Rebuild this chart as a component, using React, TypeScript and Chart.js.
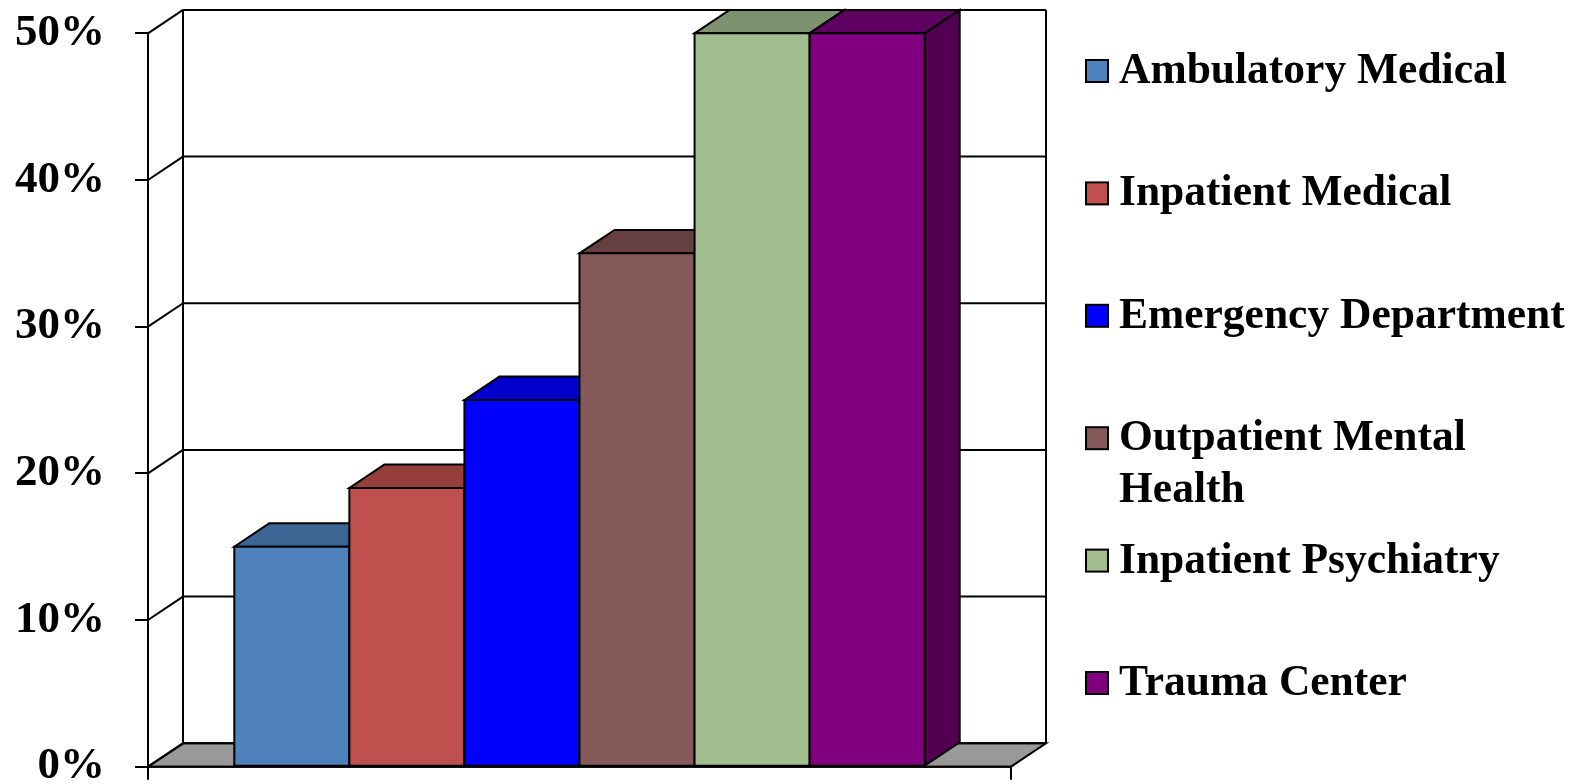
import React, { useEffect, useRef } from "react";
import { Chart, registerables } from "chart.js";

Chart.register(...registerables);

const categories = [""];
const seriesLabels = [
  "Ambulatory Medical",
  "Inpatient Medical",
  "Emergency Department",
  "Outpatient Mental Health",
  "Inpatient Psychiatry",
  "Trauma Center",
];
const seriesValues = [15, 19, 25, 35, 50, 50];
const yTickMax = 50;
const yTickStep = 10;
const frontColors = ["#4F81BD", "#C0504D", "#0000FF", "#855859", "#A2BD8E", "#800080"];
const topColors = ["#3D6594", "#963E3C", "#0000CC", "#683F40", "#7F9270", "#600060"];
const sideColors = ["#36597F", "#7F3432", "#0000A8", "#593637", "#6B7C5E", "#520052"];

const DX = 35;
const DY = -23.4;
const FONT = '"Liberation Serif", "Times New Roman", serif';

const threeD = {
  id: "threeD",
  beforeDatasetsDraw(chart: any) {
    const ctx = chart.ctx;
    const { left, right, top, bottom } = chart.chartArea;
    const yScale = chart.scales.y;
    ctx.save();
    ctx.lineWidth = 2;
    ctx.strokeStyle = "#000";
    // floor
    ctx.beginPath();
    ctx.moveTo(left, bottom);
    ctx.lineTo(right, bottom);
    ctx.lineTo(right + DX, bottom + DY);
    ctx.lineTo(left + DX, bottom + DY);
    ctx.closePath();
    ctx.fillStyle = "#999999";
    ctx.fill();
    ctx.stroke();
    // back wall gridlines and side wall diagonals
    yScale.ticks.forEach((t: any) => {
      const y = yScale.getPixelForValue(t.value);
      ctx.beginPath();
      ctx.moveTo(left + DX, y + DY);
      ctx.lineTo(right + DX, y + DY);
      ctx.stroke();
      ctx.beginPath();
      ctx.moveTo(left, y);
      ctx.lineTo(left + DX, y + DY);
      ctx.stroke();
    });
    // verticals
    ctx.beginPath();
    ctx.moveTo(left + DX, top + DY);
    ctx.lineTo(left + DX, bottom + DY);
    ctx.moveTo(right + DX, top + DY);
    ctx.lineTo(right + DX, bottom + DY);
    ctx.stroke();
    // front floor edge + x ticks
    ctx.beginPath();
    ctx.moveTo(left, bottom);
    ctx.lineTo(right, bottom);
    ctx.moveTo(left, bottom);
    ctx.lineTo(left, bottom + 13);
    ctx.moveTo(right, bottom);
    ctx.lineTo(right, bottom + 13);
    ctx.stroke();
    ctx.restore();
  },
  afterDatasetsDraw(chart: any) {
    const ctx = chart.ctx;
    ctx.save();
    ctx.lineWidth = 2;
    ctx.strokeStyle = "#000";
    ctx.lineJoin = "miter";
    chart.data.datasets.forEach((ds: any, i: number) => {
      const meta = chart.getDatasetMeta(i);
      meta.data.forEach((bar: any) => {
        const { x, y, base, width } = bar.getProps(["x", "y", "base", "width"], true);
        const l = x - width / 2;
        const r = x + width / 2;
        // top
        ctx.beginPath();
        ctx.moveTo(l, y);
        ctx.lineTo(r, y);
        ctx.lineTo(r + DX, y + DY);
        ctx.lineTo(l + DX, y + DY);
        ctx.closePath();
        ctx.fillStyle = topColors[i];
        ctx.fill();
        ctx.stroke();
        // side
        ctx.beginPath();
        ctx.moveTo(r, y);
        ctx.lineTo(r + DX, y + DY);
        ctx.lineTo(r + DX, base + DY);
        ctx.lineTo(r, base);
        ctx.closePath();
        ctx.fillStyle = sideColors[i];
        ctx.fill();
        ctx.stroke();
        // front
        ctx.beginPath();
        ctx.rect(l, y, width, base - y);
        ctx.fillStyle = frontColors[i];
        ctx.fill();
        ctx.stroke();
      });
    });
    ctx.restore();
  },
  afterDraw(chart: any) {
    const ctx = chart.ctx;
    const { right } = chart.chartArea;
    const boxX = right + 75;
    const textX = right + 108;
    const maxW = 455;
    const firstBase = 83;
    const step = 122.4;
    const lineH = 51.7;
    ctx.save();
    ctx.font = `bold 43.5px ${FONT}`;
    ctx.textBaseline = "alphabetic";
    ctx.textAlign = "left";
    chart.data.datasets.forEach((ds: any, i: number) => {
      const baseY = firstBase + i * step;
      ctx.fillStyle = frontColors[i];
      ctx.fillRect(boxX, baseY - 23, 22, 22);
      ctx.lineWidth = 2;
      ctx.strokeStyle = "#000";
      ctx.strokeRect(boxX, baseY - 23, 22, 22);
      // wrap
      const words = String(ds.label).split(" ");
      const lines: string[] = [];
      let cur = "";
      words.forEach((w) => {
        const test = cur ? cur + " " + w : w;
        if (ctx.measureText(test).width > maxW && cur) {
          lines.push(cur);
          cur = w;
        } else cur = test;
      });
      if (cur) lines.push(cur);
      ctx.fillStyle = "#000";
      lines.forEach((ln, k) => ctx.fillText(ln, textX, baseY + k * lineH));
    });
    ctx.restore();
  },
};

export default function App() {
  const ref = useRef<HTMLCanvasElement>(null);
  useEffect(() => {
    document.body.style.margin = "0";
    const chart = new Chart(ref.current as HTMLCanvasElement, {
      type: "bar",
      data: {
        labels: categories,
        datasets: seriesLabels.map((label, i) => ({
          label,
          data: [seriesValues[i]],
          backgroundColor: frontColors[i],
          borderColor: "#000",
          borderWidth: 2,
          categoryPercentage: 0.8,
          barPercentage: 1,
        })),
      },
      options: {
        responsive: false,
        animation: false,
        layout: { padding: { top: 33.3, bottom: 17.3, left: 0, right: 568 } },
        plugins: { legend: { display: false }, tooltip: { enabled: false } },
        scales: {
          x: { display: false },
          y: {
            min: 0,
            max: yTickMax,
            afterFit: (scale: any) => {
              scale.width = 148;
              scale.paddingTop = 0;
              scale.paddingBottom = 0;
            },
            ticks: {
              stepSize: yTickStep,
              callback: (v: any) => `${v}%`,
              color: "#000",
              padding: 30,
              font: { family: FONT, weight: "bold", size: 45 },
            },
            grid: { drawOnChartArea: false, tickLength: 13, color: "#000", lineWidth: 2 },
            border: { color: "#000", width: 2 },
          },
        },
      },
      plugins: [threeD],
    });
    return () => chart.destroy();
  }, []);
  return (
    <div style={{ position: "fixed", left: 0, top: 0, width: 1579, height: 784, background: "#fff" }}>
      <canvas ref={ref} width={1579} height={784} style={{ display: "block" }} />
    </div>
  );
}
